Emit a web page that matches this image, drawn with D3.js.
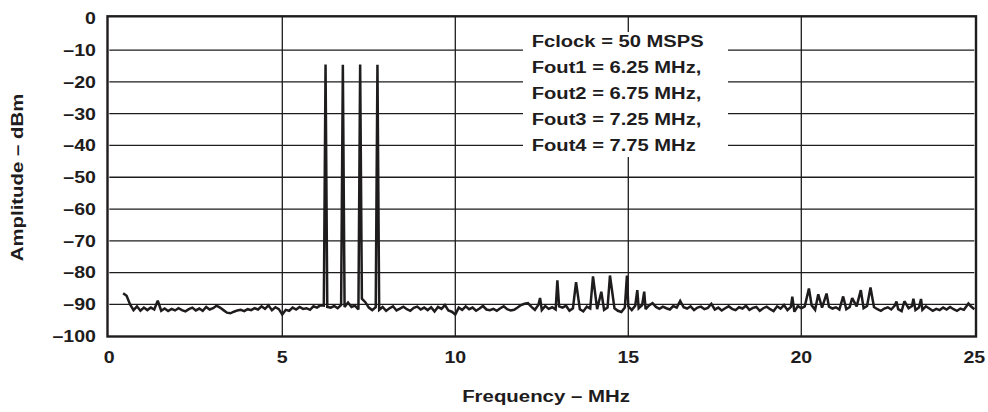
<!DOCTYPE html>
<html><head><meta charset="utf-8">
<script src="https://cdn.jsdelivr.net/npm/d3@7"></script>
<style>body{margin:0;background:#fff}svg{display:block}</style>
</head><body><svg id="c" width="988" height="412"></svg>
<script>
// ---- data ----
const noiseStartMHz = 0.4;
const noiseStepMHz = 0.1;
const noiseDbm = [
  -86.5, -87.3, -90.0, -91.8, -90.6, -92.0, -91.0,
  -91.8, -91.0, -91.6, -88.8, -92.0, -91.3, -92.1, -91.4, -91.9, -91.2,
  -91.8, -92.2, -91.5, -91.0, -91.9, -91.3, -92.0, -90.8, -91.6, -91.2,
  -90.4, -91.0, -91.8, -92.6, -92.8, -92.3, -91.9, -91.7, -92.1, -91.5,
  -91.8, -91.2, -91.6, -90.6, -91.4, -90.3, -91.8, -90.9, -91.5, -93.2,
  -91.7, -92.0, -91.0, -91.6, -90.8, -91.4, -91.2, -91.7, -90.6, -91.0,
  -90.3, -90.4, -90.8, -91.0, -90.5, -91.2, -90.2, -90.8, -89.4, -90.8,
  -90.4, -91.6, -88.2, -89.3, -91.0, -91.8, -90.9, -91.7, -90.8, -92.0,
  -91.2, -90.6, -91.9, -91.3, -90.7, -91.5, -92.0, -91.1, -90.7, -91.6,
  -91.0, -91.8, -90.9, -92.2, -90.8, -91.4, -90.2, -91.9, -92.3, -93.2,
  -91.0, -91.7, -90.6, -91.5, -91.0, -92.0, -91.3, -90.5, -91.6, -91.8,
  -91.4, -92.0, -91.2, -90.6, -91.5, -91.9, -91.7, -91.0, -90.2, -89.8,
  -89.6, -90.8, -91.7, -90.2, -91.8, -90.5, -91.4, -90.9, -91.6, -90.6,
  -91.0, -90.4, -92.0, -91.2, -90.8, -91.5, -92.2, -90.7, -91.3, -90.9,
  -91.5, -90.8, -91.7, -91.0, -90.5, -91.2, -92.0, -92.4, -91.0, -90.6,
  -91.8, -90.4, -91.2, -90.2, -91.5, -90.3, -89.6, -90.8, -91.4, -90.7,
  -91.2, -91.6, -90.5, -91.0, -88.9, -90.9, -91.3, -90.6, -91.8, -91.0,
  -90.7, -91.5, -91.1, -89.8, -91.6, -91.0, -91.9, -91.2, -90.6, -91.4,
  -91.8, -90.9, -91.3, -90.4, -91.7, -91.1, -90.8, -92.0, -91.2, -90.7,
  -91.5, -92.1, -90.6, -91.3, -90.2, -91.8, -90.8, -92.3, -90.5, -91.2,
  -90.6, -91.4, -90.3, -91.7, -90.5, -91.0, -91.8, -90.7, -91.3, -90.9,
  -91.6, -90.4, -91.5, -90.8, -91.9, -90.6, -90.3, -91.2, -90.5, -91.4,
  -90.8, -91.5, -92.0, -91.3, -90.9, -91.6, -90.4, -91.5, -92.1, -90.7,
  -91.2, -90.5, -91.8, -91.0, -91.7, -90.6, -91.3, -92.0, -91.4, -91.8,
  -91.0, -91.6, -90.8, -91.5, -92.0, -91.3, -91.7, -90.9, -90.6, -91.5
];
const spurMHz = [12.45, 12.95, 13.49, 13.98, 14.22, 14.47, 14.96, 15.26, 15.46,
                 19.74, 20.22, 20.49, 20.73, 21.21, 21.47, 21.72, 22.00, 22.75, 22.98, 23.24, 23.46, 24.83];
const spurDbm = [-88.0, -82.4, -83.0, -81.2, -86.0, -80.9, -80.9, -85.5, -86.0,
                 -87.6, -85.0, -86.8, -86.6, -87.5, -88.0, -85.5, -84.7, -89.1, -89.0, -88.2, -88.3, -89.7];
const toneMHz = [6.25, 6.75, 7.25, 7.75];
const toneDbm = [-14.5, -14.6, -14.5, -14.6];

const xTicks = [0, 5, 10, 15, 20, 25];
const xTickLabels = ["0", "5", "10", "15", "20", "25"];
const yTicks = [0, -10, -20, -30, -40, -50, -60, -70, -80, -90, -100];
const yTickLabels = ["0", "–10", "–20", "–30", "–40", "–50", "–60", "–70", "–80", "–90", "–100"];
const legendLines = ["Fclock = 50 MSPS", "Fout1 = 6.25 MHz,", "Fout2 = 6.75 MHz,", "Fout3 = 7.25 MHz,", "Fout4 = 7.75 MHz"];
const xTitle = "Frequency – MHz";
const yTitle = "Amplitude – dBm";

// ---- build trace ----
const spikes = spurMHz.map((f, i) => ({f, v: spurDbm[i]}))
  .concat(toneMHz.map((f, i) => ({f, v: toneDbm[i]})));
const noise = noiseDbm.map((v, i) => ({f: Math.round((noiseStartMHz + i * noiseStepMHz) * 100) / 100, v}));
const trace = noise.filter(p => !spikes.some(s => Math.abs(s.f - p.f) < 0.035))
  .concat(spikes).sort((a, b) => a.f - b.f);

// ---- chart ----
const ink = "#1e1c1d";
const font = "'Liberation Sans', Arial, Helvetica, sans-serif";
const sx = 1.2;
const svg = d3.select("#c");
const x = d3.scaleLinear().domain([0, 25]).range([109.3, 974.3]);
const y = d3.scaleLinear().domain([-100, 0]).range([336.2, 18.3]);

const grid = svg.append("g").attr("stroke", ink).attr("stroke-width", 1.3);
grid.selectAll("line.h").data(yTicks.slice(1, -1)).join("line")
  .attr("x1", x(0)).attr("x2", x(25)).attr("y1", d => y(d)).attr("y2", d => y(d));
grid.selectAll("line.v").data(xTicks.slice(1, -1)).join("line")
  .attr("y1", y(0) - 2).attr("y2", y(-100)).attr("x1", d => x(d)).attr("x2", d => x(d));

// legend box (white) covering gridlines
svg.append("rect").attr("x", 523).attr("y", 32).attr("width", 205).attr("height", 125).attr("fill", "#fff");

// trace
svg.append("path").datum(trace)
  .attr("fill", "none").attr("stroke", ink).attr("stroke-width", 2.5)
  .attr("stroke-linejoin", "miter").attr("stroke-miterlimit", 2.5)
  .attr("d", d3.line().x(d => x(d.f)).y(d => y(d.v)));

// frame
svg.append("rect").attr("x", x(0) - 1.8).attr("y", y(0) - 2)
  .attr("width", x(25) - x(0) + 3.5).attr("height", y(-100) - y(0) + 2.3)
  .attr("fill", "none").attr("stroke", ink).attr("stroke-width", 2.4);

// y tick labels
svg.append("g").selectAll("text").data(yTicks).join("text")
  .attr("transform", d => `translate(96,${y(d)}) scale(${sx},1)`)
  .attr("dy", "0.36em").attr("text-anchor", "end")
  .attr("font-family", font).attr("font-weight", "bold").attr("font-size", 16.3).attr("fill", ink)
  .text((d, i) => yTickLabels[i]);

// x tick labels
svg.append("g").selectAll("text").data(xTicks).join("text")
  .attr("transform", d => `translate(${x(d)},363.3) scale(${sx},1)`)
  .attr("text-anchor", "middle")
  .attr("font-family", font).attr("font-weight", "bold").attr("font-size", 16.3).attr("fill", ink)
  .text((d, i) => xTickLabels[i]);

// axis titles
svg.append("text").attr("transform", `translate(546,401.5) scale(${sx},1)`)
  .attr("text-anchor", "middle").attr("font-family", font).attr("font-weight", "bold")
  .attr("font-size", 17).attr("fill", ink).text(xTitle);
svg.append("text").attr("transform", `translate(23,177.5) rotate(-90) scale(${sx},1)`)
  .attr("text-anchor", "middle").attr("font-family", font).attr("font-weight", "bold")
  .attr("font-size", 17).attr("fill", ink).text(yTitle);

// legend text
svg.append("g").selectAll("text").data(legendLines).join("text")
  .attr("transform", (d, i) => `translate(531.7,${47.3 + i * 25.85}) scale(${sx},1)`)
  .attr("font-family", font).attr("font-weight", "bold").attr("font-size", 16.8).attr("fill", ink)
  .text(d => d);
</script></body></html>
